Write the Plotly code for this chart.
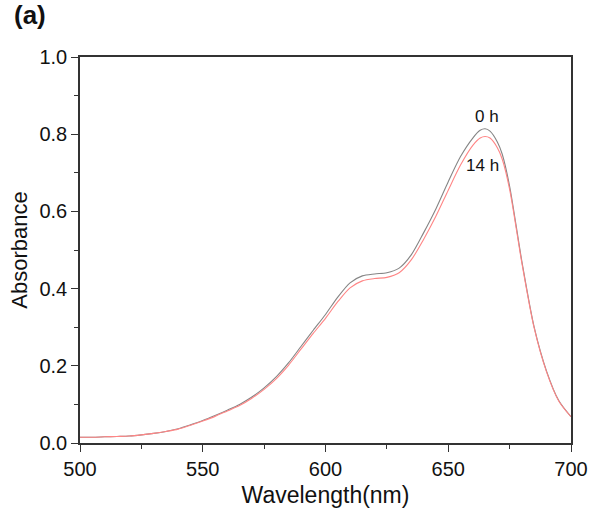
import plotly.graph_objects as go

wavelength = [500, 505, 510, 515, 520, 525, 530, 535, 540, 545, 550, 555, 560, 565, 570, 575,
              580, 585, 590, 595, 600, 605, 610, 615, 620, 625, 630, 635, 640, 645, 650, 655,
              660, 663, 665, 667, 670, 672, 675, 680, 685, 690, 695, 700]
abs_0h = [0.015, 0.015, 0.016, 0.017, 0.018, 0.021, 0.025, 0.030, 0.037, 0.047, 0.058, 0.071,
          0.085, 0.100, 0.119, 0.143, 0.172, 0.208, 0.250, 0.292, 0.333, 0.378, 0.415, 0.433,
          0.438, 0.441, 0.453, 0.488, 0.545, 0.607, 0.677, 0.742, 0.790, 0.810, 0.814, 0.808,
          0.780, 0.748, 0.665, 0.470, 0.300, 0.187, 0.110, 0.068]
abs_14h = [0.015, 0.015, 0.016, 0.017, 0.018, 0.021, 0.025, 0.030, 0.036, 0.046, 0.057, 0.069,
           0.083, 0.097, 0.116, 0.139, 0.167, 0.202, 0.243, 0.284, 0.323, 0.366, 0.402, 0.420,
           0.426, 0.429, 0.441, 0.475, 0.528, 0.588, 0.655, 0.720, 0.771, 0.790, 0.794, 0.790,
           0.765, 0.735, 0.657, 0.466, 0.298, 0.185, 0.109, 0.068]
labels = ["0 h", "14 h"]
label_pos = [(665.7, 0.845), (663.9, 0.72)]

FONT = "Liberation Sans, Arial"

fig = go.Figure()
fig.add_trace(go.Scatter(x=wavelength, y=abs_0h, mode="lines", name="0 h",
                         line=dict(color="#858585", width=1.1, shape="spline", smoothing=0.8)))
fig.add_trace(go.Scatter(x=wavelength, y=abs_14h, mode="lines", name="14 h",
                         line=dict(color="#ff8585", width=1.1, shape="spline", smoothing=0.8)))

for t, (lx, ly) in zip(labels, label_pos):
    fig.add_annotation(x=lx, y=ly, text=t, showarrow=False,
                       font=dict(family=FONT, size=17, color="#111"))

fig.add_annotation(xref="paper", yref="paper", x=-0.102, y=1.108, xanchor="center", yanchor="middle",
                   text="<b>(a)</b>", showarrow=False,
                   font=dict(family=FONT, size=26, color="#111"))

axis_common = dict(showline=True, linecolor="#333", linewidth=1.5, mirror=True,
                   ticks="outside", ticklen=7, tickwidth=1.2, tickcolor="#333",
                   showgrid=False, zeroline=False, automargin=False,
                   tickfont=dict(family=FONT, size=20, color="#111"))

fig.update_xaxes(range=[500, 700], tickvals=[500, 550, 600, 650, 700],
                 minor=dict(ticks="outside", ticklen=4, tickcolor="#333", dtick=25, tick0=500),
                 title=dict(text="Wavelength(nm)", font=dict(family=FONT, size=23, color="#111"), standoff=8),
                 **axis_common)
fig.update_yaxes(range=[0, 1.0], tickvals=[0, 0.2, 0.4, 0.6, 0.8, 1.0], tickformat=".1f",
                 minor=dict(ticks="outside", ticklen=4, tickcolor="#333", dtick=0.1, tick0=0),
                 title=dict(text="Absorbance", font=dict(family=FONT, size=22, color="#111"), standoff=6),
                 **axis_common)

fig.update_layout(width=589, height=511, margin=dict(l=80, r=18, t=57, b=68),
                  plot_bgcolor="white", paper_bgcolor="white", showlegend=False)

fig.write_html("out.html")
